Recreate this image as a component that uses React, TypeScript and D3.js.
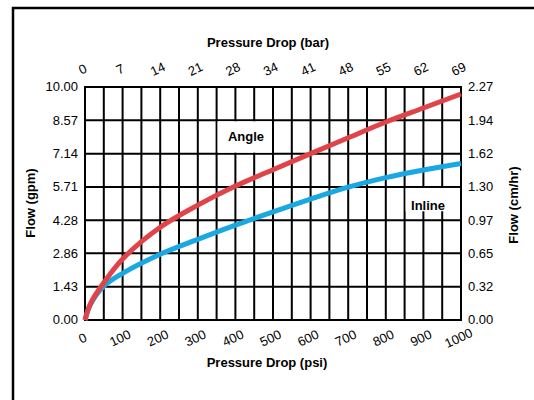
import React from "react";
import * as d3 from "d3";

const psiTicks = [0, 100, 200, 300, 400, 500, 600, 700, 800, 900, 1000];
const barLabels = ["0", "7", "14", "21", "28", "34", "41", "48", "55", "62", "69"];
const gpmTicks = [0, 1.43, 2.86, 4.28, 5.71, 7.14, 8.57, 10.0];
const cmhrLabels = ["0.00", "0.32", "0.65", "0.97", "1.30", "1.62", "1.94", "2.27"];

const anglePsi = [0, 15, 50, 100, 200, 300, 400, 500, 600, 700, 800, 900, 1000];
const angleFlow = [0, 0.72, 1.6, 2.62, 3.98, 4.93, 5.75, 6.45, 7.14, 7.82, 8.5, 9.1, 9.7];

const inlinePsi = [0, 15, 50, 100, 200, 300, 400, 500, 600, 700, 800, 900, 1000];
const inlineFlow = [0, 0.68, 1.45, 2.0, 2.82, 3.46, 4.07, 4.64, 5.19, 5.7, 6.11, 6.44, 6.72];

const FONT = "'Liberation Sans', Arial, sans-serif";

export default function App() {
  const left = 85, right = 461, top = 87, bottom = 320;
  const x = d3.scaleLinear().domain([0, 1000]).range([left, right]);
  const y = d3.scaleLinear().domain([0, 10]).range([bottom, top]);
  const gridX = d3.range(0, 1001, 50);

  const line = d3
    .line<[number, number]>()
    .x((d) => x(d[0]))
    .y((d) => y(d[1]))
    .curve(d3.curveCatmullRom.alpha(0.5));

  const angleData = anglePsi.map((p, i) => [p, angleFlow[i]] as [number, number]);
  const inlineData = inlinePsi.map((p, i) => [p, inlineFlow[i]] as [number, number]);

  return (
    <div style={{ position: "absolute", left: 0, top: 0 }}>
      <svg width={534} height={400} style={{ display: "block" }}>
        <rect x={0} y={0} width={534} height={400} fill="#fff" />
        <rect x={13} y={8} width={560} height={420} fill="none" stroke="#000" strokeWidth={2.5} />

        {/* grid */}
        {gridX.map((v) => (
          <line key={"gx" + v} x1={x(v)} x2={x(v)} y1={top} y2={bottom} stroke="#000" strokeWidth={2} />
        ))}
        {gpmTicks.map((v) => (
          <line key={"gy" + v} x1={left} x2={right} y1={y(v)} y2={y(v)} stroke="#000" strokeWidth={2} />
        ))}
        <rect x={left} y={top} width={right - left} height={bottom - top} fill="none" stroke="#000" strokeWidth={2} />

        {/* label backgrounds */}
        <rect x={x(350) + 1} y={y(8.57) + 1} width={x(500) - x(350) - 2} height={y(7.14) - y(8.57) - 2} fill="#fff" />
        <rect x={x(850) + 1} y={y(5.71) + 1} width={x(1000) - x(850) - 2} height={y(4.28) - y(5.71) - 10} fill="#fff" />

        {/* curves */}
        <path d={line(inlineData) || ""} fill="none" stroke="#1aa8e2" strokeWidth={5} />
        <path d={line(angleData) || ""} fill="none" stroke="#e04448" strokeWidth={5} />

        <text x={246} y={141} fontFamily={FONT} fontSize={13} fontWeight="bold" textAnchor="middle">Angle</text>
        <text x={428} y={209.5} fontFamily={FONT} fontSize={13} fontWeight="bold" textAnchor="middle">Inline</text>

        {/* left axis labels */}
        {gpmTicks.map((v) => (
          <text key={"ly" + v} x={78} y={y(v) + 1} fontFamily={FONT} fontSize={13} textAnchor="end" dominantBaseline="middle">
            {v.toFixed(2)}
          </text>
        ))}
        {/* right axis labels */}
        {gpmTicks.map((v, i) => (
          <text key={"ry" + v} x={468} y={y(v) + 1} fontFamily={FONT} fontSize={13} textAnchor="start" dominantBaseline="middle">
            {cmhrLabels[i]}
          </text>
        ))}
        {/* bottom psi labels */}
        {psiTicks.map((v) => (
          <text
            key={"bx" + v}
            transform={`translate(${x(v) - 2},${339}) rotate(-25)`}
            fontFamily={FONT}
            fontSize={13}
            textAnchor="middle"
            dominantBaseline="middle"
          >
            {v}
          </text>
        ))}
        {/* top bar labels */}
        {psiTicks.map((v, i) => (
          <text
            key={"tx" + v}
            transform={`translate(${x(v) - 2},${70}) rotate(-25)`}
            fontFamily={FONT}
            fontSize={13}
            textAnchor="middle"
            dominantBaseline="middle"
          >
            {barLabels[i]}
          </text>
        ))}

        {/* titles */}
        <text x={268} y={47} fontFamily={FONT} fontSize={13} fontWeight="bold" textAnchor="middle">Pressure Drop (bar)</text>
        <text x={267} y={367} fontFamily={FONT} fontSize={13} fontWeight="bold" textAnchor="middle">Pressure Drop (psi)</text>
        <text transform="translate(35,203) rotate(-90)" fontFamily={FONT} fontSize={13} fontWeight="bold" textAnchor="middle">Flow (gpm)</text>
        <text transform="translate(518,205) rotate(-90)" fontFamily={FONT} fontSize={13} fontWeight="bold" textAnchor="middle">Flow (cm/hr)</text>
      </svg>
    </div>
  );
}
